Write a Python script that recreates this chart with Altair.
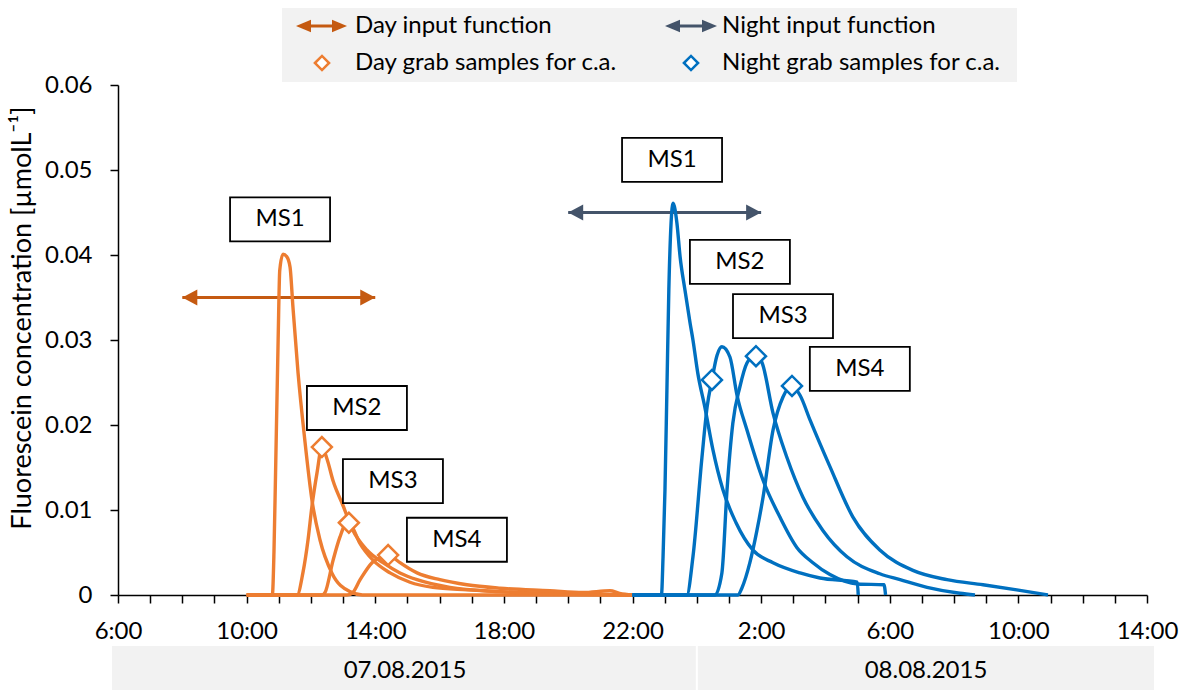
import altair as alt
import pandas as pd

FONT = "Lato"
ORANGE = "#ED7D31"
BLUE = "#0070C0"
DAY_ARROW = "#C55A11"
NIGHT_ARROW = "#44546A"
PANEL = "#F2F2F2"

# x values are hours after 06:00 on 07.08.2015
x_tick_hours = list(range(0, 33))
y_ticks = [0, 0.01, 0.02, 0.03, 0.04, 0.05, 0.06]
date_labels = ["07.08.2015", "08.08.2015"]
y_title = "Fluorescein concentration [µmolL⁻¹]"

day_ms1_h = [4.0, 4.80, 4.85, 4.90, 4.98, 5.03, 5.13, 5.25, 5.35, 5.44, 5.60, 5.81, 6.03, 6.28, 6.65, 7.21, 7.60, 16.0]
day_ms1_v = [0, 0, 0.0050, 0.0144, 0.0300, 0.0382, 0.0401, 0.0398, 0.0386, 0.0339, 0.0261, 0.0182, 0.0112, 0.0065, 0.0026, 0.0004, 0, 0]

day_ms2_h = [4.0, 5.57, 5.75, 5.91, 6.03, 6.19, 6.34, 6.50, 6.69, 7.00, 7.28, 7.74, 8.24, 8.77, 9.30, 10.32, 11.88, 13.96, 16.0]
day_ms2_v = [0, 0, 0.0026, 0.0065, 0.0104, 0.0144, 0.0174, 0.0160, 0.0134, 0.0105, 0.0078, 0.0053, 0.0038, 0.0026, 0.0018, 0.0009, 0.0004, 0.0001, 0]

day_ms3_h = [4.0, 6.35, 6.44, 6.69, 6.90, 7.12, 7.25, 7.52, 7.93, 8.46, 9.08, 9.79, 10.85, 12.41, 14.5, 16.0]
day_ms3_v = [0, 0, 0.0003, 0.0041, 0.0068, 0.0085, 0.0082, 0.0061, 0.0041, 0.0026, 0.0015, 0.0009, 0.0006, 0.0003, 0.0001, 0]

day_ms4_h = [4.0, 7.12, 7.28, 7.53, 7.90, 8.21, 8.40, 8.52, 8.77, 9.30, 10.01, 10.85, 11.88, 13.43, 14.46, 15.30, 15.60, 16.0]
day_ms4_v = [0, 0, 0.0002, 0.0018, 0.0038, 0.0045, 0.0047, 0.0045, 0.0038, 0.0026, 0.0018, 0.0012, 0.0008, 0.0005, 0.0003, 0.0005, 0.0002, 0]

night_ms1_h = [16.0, 16.90, 16.95, 17.01, 17.07, 17.13, 17.20, 17.26, 17.38, 17.48, 17.63, 17.79, 17.88, 18.03, 18.25, 18.50, 18.81, 19.22, 19.74, 20.37, 21.21, 21.83, 22.99, 23.02]
night_ms1_v = [0, 0, 0.0045, 0.0124, 0.0241, 0.0359, 0.0438, 0.0461, 0.0438, 0.0398, 0.0359, 0.0320, 0.0300, 0.0261, 0.0221, 0.0171, 0.0124, 0.0085, 0.0053, 0.0038, 0.0026, 0.0020, 0.0015, 0]

night_ms2_h = [16.0, 17.69, 17.88, 18.16, 18.32, 18.47, 18.63, 18.78, 19.03, 19.25, 19.56, 20.06, 20.58, 21.11, 21.61, 22.14, 23.01, 23.82, 23.87]
night_ms2_v = [0, 0, 0.0045, 0.0162, 0.0221, 0.0253, 0.0282, 0.0292, 0.0280, 0.0235, 0.0194, 0.0135, 0.0092, 0.0056, 0.0038, 0.0024, 0.0013, 0.0012, 0]

night_ms3_h = [16.0, 18.56, 18.78, 18.94, 19.12, 19.34, 19.56, 19.81, 20.02, 20.37, 20.80, 21.30, 21.92, 22.67, 23.69, 24.32, 25.16, 26.18, 26.65]
night_ms3_v = [0, 0, 0.0026, 0.0124, 0.0202, 0.0245, 0.0273, 0.0282, 0.0274, 0.0214, 0.0162, 0.0115, 0.0076, 0.0045, 0.0025, 0.0018, 0.0009, 0.0002, 0]

night_ms4_h = [16.0, 19.28, 19.40, 19.65, 19.87, 20.06, 20.37, 20.68, 20.96, 21.21, 21.52, 22.14, 22.85, 23.69, 24.72, 25.78, 26.90, 27.95, 28.92]
night_ms4_v = [0, 0, 0.0008, 0.0038, 0.0076, 0.0115, 0.0194, 0.0233, 0.0246, 0.0235, 0.0206, 0.0151, 0.0092, 0.0053, 0.0029, 0.0018, 0.0012, 0.0006, 0]

# grab samples
day_sample_h = [6.34, 7.18, 8.40]
day_sample_v = [0.0174, 0.0085, 0.0047]
night_sample_h = [18.47, 19.84, 20.96]
night_sample_v = [0.0253, 0.0281, 0.0246]

# MS labels
box_labels = ["MS1", "MS2", "MS3", "MS4", "MS1", "MS2", "MS3", "MS4"]
box_h = [5.04, 7.43, 8.55, 10.54, 17.23, 19.34, 20.68, 23.07]
box_v = [0.0442, 0.0220, 0.0134, 0.0065, 0.0512, 0.0392, 0.0328, 0.0266]

# input functions
input_names = ["Day input function", "Night input function"]
input_start = [2, 14]
input_end = [8, 20]
input_level = [0.035, 0.045]
midnight_h = 18

legend_labels = ["Day input function", "Night input function",
                 "Day grab samples for c.a.", "Night grab samples for c.a."]

# ---------------------------------------------------------------
series = [
    ("Day", "MS1", day_ms1_h, day_ms1_v), ("Day", "MS2", day_ms2_h, day_ms2_v),
    ("Day", "MS3", day_ms3_h, day_ms3_v), ("Day", "MS4", day_ms4_h, day_ms4_v),
    ("Night", "MS1", night_ms1_h, night_ms1_v), ("Night", "MS2", night_ms2_h, night_ms2_v),
    ("Night", "MS3", night_ms3_h, night_ms3_v), ("Night", "MS4", night_ms4_h, night_ms4_v),
]
rows = []
for period, name, hs, vs in series:
    for h, v in zip(hs, vs):
        rows.append({"period": period, "series": period + " " + name, "h": h, "v": v})
curves = pd.DataFrame(rows)

samples_day = pd.DataFrame({"h": day_sample_h, "v": day_sample_v})
samples_night = pd.DataFrame({"h": night_sample_h, "v": night_sample_v})
boxes = pd.DataFrame({"label": box_labels, "h": box_h, "v": box_v})
inputs = pd.DataFrame({"name": input_names, "h1": input_start, "h2": input_end, "v": input_level})

xs = alt.Scale(domain=[0, 32], nice=False, zero=False)
ys = alt.Scale(domain=[0, 0.06], nice=False)
xa = alt.Axis(values=x_tick_hours, title=None, grid=False, tickSize=8, tickWidth=1.5,
              tickColor="black", domainColor="black", domainWidth=1.5,
              labelExpr="datum.value % 4 == 0 ? ((datum.value + 6) % 24) + ':00' : ''",
              labelFont=FONT, labelFontSize=24, labelColor="black", labelPadding=16,
              labelFlush=False, labelOverlap=False)
ya = alt.Axis(values=y_ticks, title=None, grid=False, tickSize=8, tickWidth=1.5,
              tickColor="black", domainColor="black", domainWidth=1.5,
              labelExpr="datum.value == 0 ? '0' : format(datum.value, '.2f')",
              labelFont=FONT, labelFontSize=24, labelColor="black", labelPadding=18,
              labelFlush=False, labelOverlap=False)


def X(f):
    return alt.X(f, type="quantitative", scale=xs, axis=xa)


def Y(f):
    return alt.Y(f, type="quantitative", scale=ys, axis=ya)


arrow_fill = alt.Fill("name:N", scale=alt.Scale(domain=input_names, range=[DAY_ARROW, NIGHT_ARROW]), legend=None)
arrow_stroke = alt.Stroke("name:N", scale=alt.Scale(domain=input_names, range=[DAY_ARROW, NIGHT_ARROW]), legend=None)
LEFT_HEAD = "M0,0L1,-0.53L1,0.53Z"
RIGHT_HEAD = "M0,0L-1,-0.53L-1,0.53Z"
LEFT_HEAD_L = "M0,0L1,-0.42L1,0.42Z"
RIGHT_HEAD_L = "M0,0L-1,-0.42L-1,0.42Z"
BOX = "M-1,-0.44L1,-0.44L1,0.44L-1,0.44Z"

arrow_rule = alt.Chart(inputs).mark_rule(strokeWidth=3).encode(x=X("h1"), x2="h2", y=Y("v"), stroke=arrow_stroke)
arrow_l = alt.Chart(inputs).mark_point(shape=LEFT_HEAD, size=900, filled=True, opacity=1, strokeWidth=0).encode(
    x=X("h1"), y=Y("v"), fill=arrow_fill)
arrow_r = alt.Chart(inputs).mark_point(shape=RIGHT_HEAD, size=900, filled=True, opacity=1, strokeWidth=0).encode(
    x=X("h2"), y=Y("v"), fill=arrow_fill)

lines = alt.Chart(curves).mark_line(strokeWidth=3.4, interpolate="monotone").encode(
    x=X("h"), y=Y("v"),
    color=alt.Color("period:N", scale=alt.Scale(domain=["Day", "Night"], range=[ORANGE, BLUE]), legend=None),
    detail="series:N",
)

dia_day = alt.Chart(samples_day).mark_point(shape="diamond", size=400, fill="white", stroke=ORANGE,
                                            strokeWidth=2.5, opacity=1, fillOpacity=1).encode(x=X("h"), y=Y("v"))
dia_night = alt.Chart(samples_night).mark_point(shape="diamond", size=400, fill="white", stroke=BLUE,
                                                strokeWidth=2.5, opacity=1, fillOpacity=1).encode(x=X("h"), y=Y("v"))

box_marks = alt.Chart(boxes).mark_point(shape=BOX, size=10000, fill="white", stroke="black", strokeWidth=1.8,
                                        opacity=1, fillOpacity=1).encode(x=X("h"), y=Y("v"))
box_text = alt.Chart(boxes).mark_text(font=FONT, fontSize=24, color="black", baseline="middle", align="center").encode(
    x=X("h"), y=Y("v"), text="label:N")

one = alt.Data(values=[{"a": 1}])

# date band under the axis
band = alt.Chart(one).mark_rect(color=PANEL).encode(
    x=alt.value(-6), x2=alt.value(1036), y=alt.value(561), y2=alt.value(605))
band_div = alt.Chart(one).mark_rule(color="white", strokeWidth=2).encode(
    x=alt.X(datum=midnight_h, type="quantitative", scale=xs, axis=xa), y=alt.value(561), y2=alt.value(605))
band_t1 = alt.Chart(one).mark_text(text=date_labels[0], font=FONT, fontSize=24, color="black", baseline="middle").encode(
    x=alt.value(287), y=alt.value(586))
band_t2 = alt.Chart(one).mark_text(text=date_labels[1], font=FONT, fontSize=24, color="black", baseline="middle").encode(
    x=alt.value(808), y=alt.value(586))

title = alt.Chart(one).mark_text(text=y_title, font=FONT, fontSize=27, color="black", angle=270,
                                 baseline="middle", align="center").encode(x=alt.value(-95), y=alt.value(233))

# legend box
leg_bg = alt.Chart(one).mark_rect(color=PANEL).encode(
    x=alt.value(164), x2=alt.value(899), y=alt.value(-77), y2=alt.value(-3))
leg = [leg_bg]
for (xa1, xa2, col) in [(178, 229, DAY_ARROW), (547, 599, NIGHT_ARROW)]:
    leg.append(alt.Chart(one).mark_rule(color=col, strokeWidth=3).encode(
        x=alt.value(xa1 + 5), x2=alt.value(xa2 - 5), y=alt.value(-59)))
    leg.append(alt.Chart(one).mark_point(shape=LEFT_HEAD_L, size=900, filled=True, color=col, opacity=1,
                                         strokeWidth=0).encode(x=alt.value(xa1), y=alt.value(-59)))
    leg.append(alt.Chart(one).mark_point(shape=RIGHT_HEAD_L, size=900, filled=True, color=col, opacity=1,
                                         strokeWidth=0).encode(x=alt.value(xa2), y=alt.value(-59)))
for (xd, col) in [(204, ORANGE), (573, BLUE)]:
    leg.append(alt.Chart(one).mark_point(shape="diamond", size=200, fill="white", stroke=col, strokeWidth=2.5,
                                         opacity=1).encode(x=alt.value(xd), y=alt.value(-22)))
for lbl, xt, yt in zip(legend_labels, [237, 604, 237, 604], [-59, -59, -22, -22]):
    leg.append(alt.Chart(one).mark_text(text=lbl, font=FONT, fontSize=24, color="black", align="left",
                                        baseline="middle").encode(x=alt.value(xt), y=alt.value(yt)))

chart = alt.layer(
    band, band_div, band_t1, band_t2, title, *leg,
    arrow_rule, arrow_l, arrow_r, lines, dia_day, dia_night, box_marks, box_text,
).resolve_scale(
    color="independent", fill="independent", stroke="independent"
).properties(
    width=1029, height=510, autosize="none",
    padding={"left": 118, "top": 85, "right": 39, "bottom": 95},
    background="white",
).configure_view(stroke=None)

chart.save("out.html", embed_options={"renderer": "svg", "actions": False})
